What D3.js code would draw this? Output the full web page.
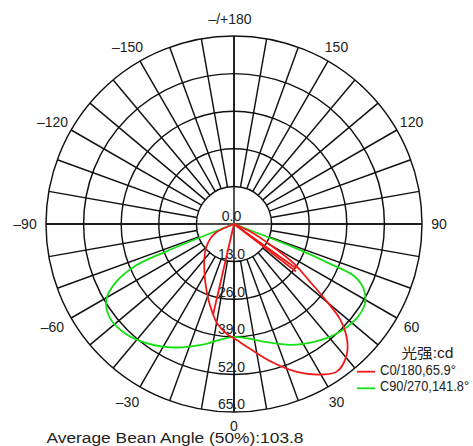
<!DOCTYPE html>
<html>
<head>
<meta charset="utf-8">
<script src="https://cdnjs.cloudflare.com/ajax/libs/d3/7.8.5/d3.min.js"></script>
<style>
body { margin: 0; background: #fff; }
svg { display: block; font-family: "Liberation Sans", Arial, "Noto Sans CJK SC", sans-serif; }
.grid { fill: none; stroke: #111; stroke-width: 1.45; }
.lbl { fill: #222; font-size: 14px; }
.curve { fill: none; stroke-width: 1.8; stroke-linejoin: round; }
</style>
</head>
<body>
<svg id="chart" width="473" height="446"></svg>
<script>
// polar grid
var ringValues = [13, 26, 39, 52, 65];
var ringLabelValues = [0, 13, 26, 39, 52, 65];
var ringLabels = ["0.0", "13.0", "26.0", "39.0", "52.0", "65.0"];
var angleTicks = [0, 30, 60, 90, 120, 150, 180, -150, -120, -90, -60, -30];
var angleLabels = ["0", "30", "60", "90", "120", "150", "\u2013/+180", "\u2013150", "\u2013120", "\u201390", "\u201360", "\u201330"];

// C0/180 (cd), angle 0 = straight down, positive to the right
var redAngles = [-75, -64, -55, -46, -34, -22, -14, -9, -3, 0, 7, 15, 23, 30, 35, 40, 44, 48, 50.5, 53, 56.5, 60, 65, 80];
var redValues = [0, 7.3, 10.8, 13.9, 18.4, 25.2, 31.3, 35.3, 38.4, 39.5, 43.3, 49.2, 55.5, 60.1, 62.2, 60.2, 56.4, 49.5, 40.5, 32.5, 25, 15, 6.5, 0];
var redSpikeAngles = [-13, 52.5, 54.5];
var redSpikeValues = [32, 27, 26.5];

// C90/270 (cd)
var greenAngles = [-90, -68, -67, -63.5, -59.5, -53, -45, -36, -26, -15, 0, 14, 25, 35, 43, 52.5, 58.5, 63, 66.5, 67.5, 68.5, 90];
var greenValues = [0, 25, 37, 46, 51.2, 53.8, 53.4, 51, 47.5, 43.3, 39, 41.9, 46.1, 49.5, 51.9, 53.5, 53, 50.5, 45.5, 36, 24, 0];

var legendLabels = ["C0/180,65.9\u00b0", "C90/270,141.8\u00b0"];
var legendColors = ["#f21818", "#14e014"];
var legendWidths = [76, 89];

var cx = 234, cy = 224;
var svg = d3.select("#chart");

var r = d3.scaleLinear().domain([0, 65]).range([0, 188]);

function pt(a, v) {
    var t = a * Math.PI / 180;
    return [cx + r(v) * Math.sin(t), cy + r(v) * Math.cos(t)];
}

var grid = svg.append("g").attr("class", "grid");

grid.selectAll("circle")
    .data(ringValues)
    .enter().append("circle")
    .attr("cx", cx)
    .attr("cy", cy)
    .attr("r", function(d) { return r(d); });

// spokes every 10 deg, from first ring outwards
grid.selectAll(".spoke")
    .data(d3.range(0, 360, 10))
    .enter().append("line")
    .attr("class", "spoke")
    .attr("x1", function(d) { return pt(d, ringValues[0])[0]; })
    .attr("y1", function(d) { return pt(d, ringValues[0])[1]; })
    .attr("x2", function(d) { return pt(d, 65)[0]; })
    .attr("y2", function(d) { return pt(d, 65)[1]; });

// the two axes go through the centre
[0, 90].forEach(function(a) {
    grid.append("line")
        .attr("x1", pt(a, 65)[0]).attr("y1", pt(a, 65)[1])
        .attr("x2", pt(a + 180, 65)[0]).attr("y2", pt(a + 180, 65)[1]);
});

// ring labels along the lower axis
svg.selectAll(".rlbl")
    .data(ringLabelValues)
    .enter().append("text")
    .attr("class", "lbl rlbl")
    .attr("text-anchor", "middle")
    .attr("x", cx - 2.5)
    .attr("y", function(d) { return cy + r(d) - 2.7; })
    .text(function(d, i) { return ringLabels[i]; });

// angle labels
svg.selectAll(".albl")
    .data(angleTicks)
    .enter().append("text")
    .attr("class", "lbl albl")
    .attr("text-anchor", "middle")
    .attr("dy", "0.36em")
    .attr("x", function(d, i) { return cx + 205 * Math.sin(d * Math.PI / 180) - (angleLabels[i][0] === "\u2013" ? 4 : 0); })
    .attr("y", function(d) { return cy + (d === 0 ? 202 : 205) * Math.cos(d * Math.PI / 180); })
    .text(function(d, i) { return angleLabels[i]; });

var radial = d3.lineRadial()
    .angle(function(d) { return Math.PI - d[0] * Math.PI / 180; })
    .radius(function(d) { return r(d[1]); })
    .curve(d3.curveCatmullRom.alpha(0.5));

var plot = svg.append("g").attr("transform", "translate(" + cx + "," + cy + ")");

plot.append("path")
    .attr("class", "curve")
    .attr("stroke", legendColors[1])
    .attr("d", radial(d3.zip(greenAngles, greenValues)));

plot.append("path")
    .attr("class", "curve")
    .attr("stroke", legendColors[0])
    .attr("d", radial(d3.zip(redAngles, redValues)));

plot.selectAll(".spike")
    .data(d3.zip(redSpikeAngles, redSpikeValues))
    .enter().append("path")
    .attr("class", "curve spike")
    .attr("stroke", legendColors[0])
    .attr("stroke-width", 1.1)
    .attr("d", function(d) { return radial.curve(d3.curveLinear)([[d[0], 0], d]); });

// legend
svg.append("text")
    .attr("class", "lbl")
    .attr("x", 401.5)
    .attr("y", 357.5)
    .attr("font-size", "12px")
    .attr("textLength", 52)
    .attr("lengthAdjust", "spacingAndGlyphs")
    .text("\u5149\u5f3a:cd");

var leg = svg.selectAll(".leg")
    .data(legendLabels)
    .enter().append("g")
    .attr("class", "leg")
    .attr("transform", function(d, i) { return "translate(357," + (371.7 + i * 16.6) + ")"; });

leg.append("line")
    .attr("x1", 0).attr("x2", 18)
    .attr("stroke", function(d, i) { return legendColors[i]; })
    .attr("stroke-width", 1.8);

leg.append("text")
    .attr("class", "lbl")
    .attr("x", 23)
    .attr("y", 3)
    .attr("font-size", "12px")
    .attr("textLength", function(d, i) { return legendWidths[i]; })
    .attr("lengthAdjust", "spacingAndGlyphs")
    .text(function(d) { return d; });

svg.append("text")
    .attr("class", "lbl")
    .attr("x", 46.5)
    .attr("y", 443.3)
    .attr("textLength", 257)
    .attr("lengthAdjust", "spacingAndGlyphs")
    .text("Average Bean Angle (50%):103.8");
</script>
</body>
</html>
